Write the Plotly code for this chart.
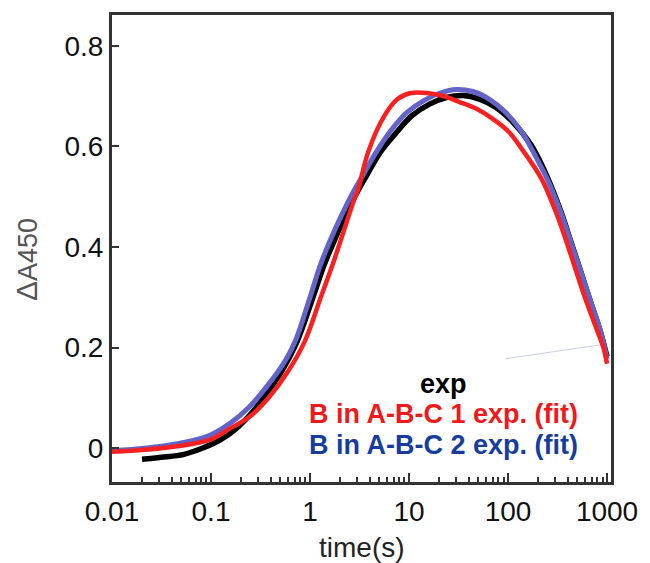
import plotly.graph_objects as go

# ---- data ----
exp_t = [0.0201, 0.0313, 0.0532, 0.0839, 0.1228, 0.1796, 0.2624, 0.3837, 0.520, 0.743,
         1.071, 1.439, 2.67, 3.75, 5.16, 7.27, 10.7, 16.1, 23.8, 35.1, 51.3, 74.8, 109.6,
         172.9, 252.9, 342.6, 430.5, 540.8, 679.2, 853.0, 1000]
exp_y = [-0.022, -0.018, -0.012, 0.001, 0.016, 0.039, 0.072, 0.115, 0.154, 0.213,
         0.300, 0.372, 0.490, 0.543, 0.589, 0.625, 0.661, 0.684, 0.697, 0.701, 0.694, 0.678, 0.650,
         0.601, 0.536, 0.470, 0.411, 0.352, 0.292, 0.233, 0.182]

fit1_t = [0.01, 0.0214, 0.0458, 0.0977, 0.1543, 0.2432, 0.3837, 0.6053, 0.887, 1.285, 1.740,
          2.746, 3.08, 3.87, 5.65, 7.66, 10.4, 15.2, 22.2, 32.5, 47.5, 69.5, 101.6,
          137.6, 217.3, 293.8, 368.9, 463.5, 582.1, 731.1, 918.4, 1000]
fit1_y = [-0.007, -0.003, 0.004, 0.017, 0.039, 0.062, 0.101, 0.154, 0.213, 0.300, 0.372,
          0.490, 0.516, 0.589, 0.661, 0.694, 0.706, 0.706, 0.700, 0.688, 0.675, 0.655, 0.629,
          0.595, 0.536, 0.477, 0.424, 0.365, 0.306, 0.253, 0.200, 0.168]

fit2_t = [0.01, 0.0214, 0.0458, 0.0977, 0.1543, 0.2432, 0.3837, 0.562, 0.710, 1.000,
          1.315, 2.43, 3.43, 4.68, 6.59, 9.61, 14.1, 20.6, 30.1, 44.1, 64.4, 94.0, 137.6,
          172.9, 252.9, 342.6, 430.5, 540.8, 679.2, 853.0, 1000]
fit2_y = [-0.005, 0.000, 0.009, 0.026, 0.049, 0.082, 0.128, 0.174, 0.213, 0.300,
          0.372, 0.490, 0.543, 0.589, 0.632, 0.668, 0.691, 0.706, 0.713, 0.709, 0.694, 0.668, 0.629,
          0.595, 0.532, 0.468, 0.410, 0.352, 0.293, 0.235, 0.178]

faint_t = [95.0, 891.0]
faint_y = [0.178, 0.206]

x_tick_vals = [0.01, 0.1, 1, 10, 100, 1000]
x_tick_text = ["0.01", "0.1", "1", "10", "100", "1000"]
y_tick_vals = [0, 0.2, 0.4, 0.6, 0.8]
y_tick_text = ["0", "0.2", "0.4", "0.6", "0.8"]
minor_vals = [m * d for d in [0.01, 0.1, 1, 10, 100] for m in range(2, 10)]

legend_labels = ["exp", "B in A-B-C 1 exp. (fit)", "B in A-B-C 2 exp. (fit)"]
legend_colors = ["#000000", "#f01818", "#163c9c"]

# ---- figure ----
FONT = "Liberation Sans, Arial, sans-serif"
fig = go.Figure()
fig.add_trace(go.Scatter(x=faint_t, y=faint_y, mode="lines",
                         line=dict(color="rgba(140,140,225,0.45)", width=1), hoverinfo="skip"))
fig.add_trace(go.Scatter(x=exp_t, y=exp_y, mode="lines", line=dict(color="#000000", width=5.5, shape="spline")))
fig.add_trace(go.Scatter(x=fit2_t, y=fit2_y, mode="lines", line=dict(color="#6464c8", width=5, shape="spline")))
fig.add_trace(go.Scatter(x=fit1_t, y=fit1_y, mode="lines", line=dict(color="#f82020", width=4.5, shape="spline")))

ax_common = dict(showline=True, linecolor="#333333", linewidth=3, mirror=True,
                 showgrid=False, zeroline=False, ticks="inside", tickcolor="#333333",
                 tickwidth=1.5, tickfont=dict(family=FONT, size=28, color="#111111"))

fig.update_xaxes(type="log", range=[-2, 3.04], tickmode="array", tickvals=x_tick_vals,
                 ticktext=x_tick_text, ticklen=9, ticklabelstandoff=2,
                 minor=dict(tickmode="array", tickvals=minor_vals, ticks="inside", ticklen=5,
                            tickcolor="#333333", tickwidth=1.5, showgrid=False),
                 **ax_common)
fig.update_yaxes(range=[-0.067, 0.861], tickmode="array", tickvals=y_tick_vals,
                 ticktext=y_tick_text, ticklen=7, **ax_common)

ann_y = [0.2106, 0.1447, 0.0787]
for lab, col, yy in zip(legend_labels, legend_colors, ann_y):
    fig.add_annotation(text="<b>%s</b>" % lab, x=0.664, y=yy, xref="paper", yref="paper",
                       showarrow=False, xanchor="center", yanchor="middle",
                       font=dict(family=FONT, size=27, color=col))

fig.add_annotation(text="time(s)", x=0.5, y=-0.1404, xref="paper", yref="paper",
                   showarrow=False, xanchor="center", yanchor="middle",
                   font=dict(family=FONT, size=28, color="#222222"))
fig.add_annotation(text="<span style='font-size:30px'>Δ</span>A450", x=-0.171, y=0.4766,
                   xref="paper", yref="paper",
                   showarrow=False, xanchor="center", yanchor="middle", textangle=-90,
                   font=dict(family=FONT, size=27, color="#555555"))

fig.update_layout(width=650, height=563, margin=dict(l=112, r=29, t=12, b=81),
                  plot_bgcolor="white", paper_bgcolor="white", showlegend=False)

fig.write_html("out.html")
